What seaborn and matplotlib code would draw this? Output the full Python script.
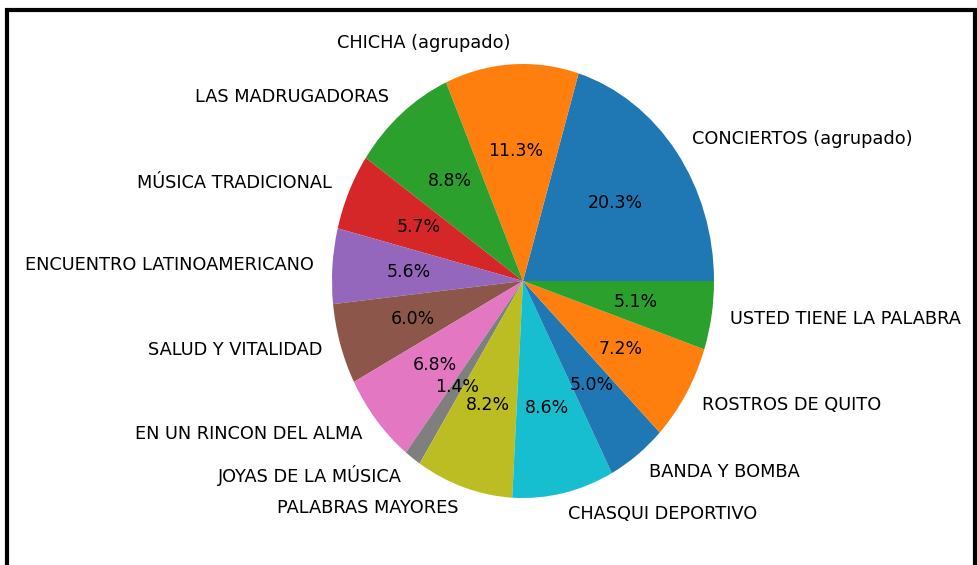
import matplotlib
matplotlib.use("Agg")
import matplotlib.pyplot as plt
import matplotlib.patches as mpatches
import seaborn as sns

programas = ['CONCIERTOS (agrupado)', 'CHICHA (agrupado)', 'LAS MADRUGADORAS',
             'MÚSICA TRADICIONAL', 'ENCUENTRO LATINOAMERICANO', 'SALUD Y VITALIDAD',
             'EN UN RINCON DEL ALMA', 'JOYAS DE LA MÚSICA', 'PALABRAS MAYORES',
             'CHASQUI DEPORTIVO', 'BANDA Y BOMBA', 'ROSTROS DE QUITO',
             'USTED TIENE LA PALABRA']
porcentajes = [20.3, 11.3, 8.8, 5.7, 5.6, 6.0, 6.8, 1.4, 8.2, 8.6, 5.0, 7.2, 5.1]

colores = sns.color_palette('tab10', 10)
colores = colores + colores[:3]

W, H = 978, 565
fig = plt.figure(figsize=(W / 100, H / 100), dpi=100)

cx, cy, rx, ry = 523, 284, 191, 217
ax = fig.add_axes([(cx - 1.25 * rx) / W, (cy - 1.25 * ry) / H, 2.5 * rx / W, 2.5 * ry / H])
_, textos, autotextos = ax.pie(porcentajes, labels=programas, colors=colores,
                               autopct='%1.1f%%', textprops={'fontsize': 12.8})
for t in autotextos:
    t.set_fontsize(12.5)
ax.set_aspect('auto')
ax.set_xlim(-1.25, 1.25)
ax.set_ylim(-1.25, 1.25)

# black frame of the screenshot
fig.patches.append(mpatches.Rectangle((7.5 / W, -0.05), (975 - 7.5) / W, 555 / H + 0.05,
                                      transform=fig.transFigure, fill=False,
                                      edgecolor='black', linewidth=3))

fig.savefig('out.png', dpi=100)
